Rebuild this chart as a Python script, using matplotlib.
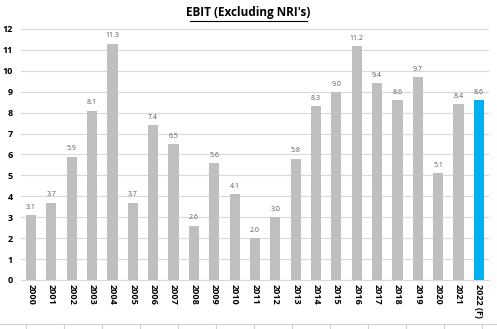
import matplotlib
matplotlib.use("Agg")
import matplotlib.pyplot as plt
from matplotlib.lines import Line2D

years = ["2000", "2001", "2002", "2003", "2004", "2005", "2006", "2007", "2008", "2009",
         "2010", "2011", "2012", "2013", "2014", "2015", "2016", "2017", "2018", "2019",
         "2020", "2021", "2022 (F)"]
ebit = [3.1, 3.7, 5.9, 8.1, 11.3, 3.7, 7.4, 6.5, 2.6, 5.6,
        4.1, 2.0, 3.0, 5.8, 8.3, 9.0, 11.2, 9.4, 8.6, 9.7,
        5.1, 8.4, 8.6]
yticks = list(range(0, 13))

plt.rcParams['font.family'] = ['Open Sans', 'DejaVu Sans']

fig = plt.figure(figsize=(4.97, 3.29), dpi=100)
ax = fig.add_axes([0.042, 0.149, 0.942, 0.763])

colors = ['#BFBFBF'] * (len(years) - 1) + ['#00B0F0']
x = list(range(len(years)))
bars = ax.bar(x, ebit, width=0.5, color=colors, zorder=3)
for xi, v in zip(x, ebit):
    ax.text(xi, v + 0.2, f"{v:.1f}", ha='center', va='bottom', fontsize=5, color='#595959')

ax.set_xlim(-0.5, len(years) - 0.5)
ax.set_ylim(0, 12)
ax.set_yticks(yticks)
ax.set_yticklabels([str(t) for t in yticks], fontsize=6.5, fontweight='bold')
ax.set_xticks(x)
ax.set_xticklabels(years, rotation=270, fontsize=6.5, fontweight='bold')
ax.tick_params(axis='both', length=0, pad=3)
ax.tick_params(axis='y', pad=6)
ax.grid(axis='y', color='#D9D9D9', linewidth=0.8, zorder=0)
for s in ['top', 'right', 'left']:
    ax.spines[s].set_visible(False)
ax.spines['bottom'].set_color('#D9D9D9')

fig.text(0.5, 0.962, "EBIT (Excluding NRI's)", ha='center', va='center',
         fontsize=8.5, fontweight='bold', color='black')
# underline
fig.add_artist(Line2D([0.383, 0.617], [0.936, 0.936], color='black', linewidth=0.8,
                      transform=fig.transFigure))

# bottom sheet border
fig.add_artist(Line2D([0, 1], [1 - 324/329, 1 - 324/329], color='#D0D0D0', linewidth=0.8,
                      transform=fig.transFigure))
for px in range(26, 497, 38):
    fig.add_artist(Line2D([px/497, px/497], [0, 1 - 324/329], color='#D0D0D0', linewidth=0.8,
                          transform=fig.transFigure))

fig.savefig("out.png", dpi=100)
